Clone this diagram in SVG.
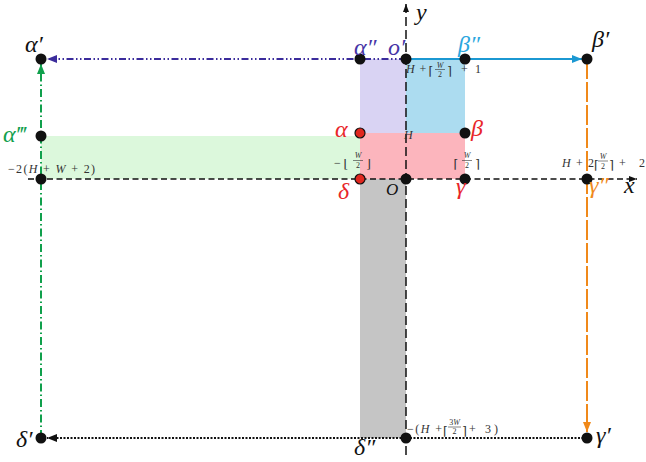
<svg xmlns="http://www.w3.org/2000/svg" width="646" height="462" viewBox="0 0 646 462">
<style>
.m{font-family:"Liberation Serif","DejaVu Serif",serif;font-style:italic}
.u{font-family:"Liberation Serif","DejaVu Serif",serif;font-style:normal}
.br{font-family:"DejaVu Serif","Liberation Serif",serif;font-style:normal}
.big{font-size:24px}
.sm{font-size:12px;fill:#333}
.fr{font-size:8px;fill:#333;text-anchor:middle}
.bar{stroke:#333;stroke-width:0.6}
.dot{fill:#111}
.rdot{fill:#e0271f;stroke:#111;stroke-width:1.2}
.red{fill:#e8262a}
.ind{fill:#4634a6}
.lb{fill:#2aa6de}
.grn{fill:#12a04e}
.org{fill:#f08a1c}
.blk{fill:#111}
</style>
<defs>
<marker id="aInd" viewBox="0 0 10 8" refX="10" refY="4" markerWidth="10" markerHeight="8" markerUnits="userSpaceOnUse" orient="auto"><path d="M0,0L10,4L0,8z" fill="#3b2c9c"/></marker>
<marker id="aBlue" viewBox="0 0 10 8" refX="10" refY="4" markerWidth="10" markerHeight="8" markerUnits="userSpaceOnUse" orient="auto"><path d="M0,0L10,4L0,8z" fill="#1b98d2"/></marker>
<marker id="aOrg" viewBox="0 0 10 8" refX="10" refY="4" markerWidth="10" markerHeight="8" markerUnits="userSpaceOnUse" orient="auto"><path d="M0,0L10,4L0,8z" fill="#f0891a"/></marker>
<marker id="aGrn" viewBox="0 0 10 8" refX="10" refY="4" markerWidth="10" markerHeight="8" markerUnits="userSpaceOnUse" orient="auto"><path d="M0,0L10,4L0,8z" fill="#10a04c"/></marker>
<marker id="aBlk" viewBox="0 0 10 8" refX="10" refY="4" markerWidth="10" markerHeight="8" markerUnits="userSpaceOnUse" orient="auto"><path d="M0,0L10,4L0,8z" fill="#111"/></marker>
<marker id="aAx" viewBox="0 0 8 6" refX="8" refY="3" markerWidth="8" markerHeight="6" markerUnits="userSpaceOnUse" orient="auto"><path d="M0,0L8,3L0,6z" fill="#111"/></marker>
</defs>
<rect width="646" height="462" fill="#fff"/>
<g id="regions">
<rect x="41" y="136" width="319" height="43" fill="#dcf8dc"/>
<rect x="360" y="59" width="46" height="74" fill="#d9d3f3"/>
<rect x="406" y="59" width="59" height="74" fill="#acdcf0"/>
<rect x="360" y="133" width="105" height="46" fill="#fcb5bd"/>
<rect x="360" y="179" width="46" height="259" fill="#c5c5c5"/>
</g>
<g id="connectors" fill="none">
<line id="axis-x" x1="28" y1="179" x2="637" y2="179" stroke="#111" stroke-width="1.5" stroke-dasharray="6 3.5" marker-end="url(#aAx)"/>
<line id="axis-y" x1="406" y1="455" x2="406" y2="4" stroke="#111" stroke-width="1.5" stroke-dasharray="9 4" marker-end="url(#aAx)"/>
<line id="c-o-alpha1" x1="406" y1="59" x2="47" y2="59" stroke="#3b2c9c" stroke-width="2" stroke-dasharray="7 2.5 1.5 2.5 1.5 2.5" marker-end="url(#aInd)"/>
<line id="c-o-beta1" x1="406" y1="59" x2="582" y2="59" stroke="#1b98d2" stroke-width="2" marker-end="url(#aBlue)"/>
<line id="c-beta1-gamma1" x1="587" y1="59" x2="587" y2="432" stroke="#f0891a" stroke-width="2" stroke-dasharray="20 3" marker-end="url(#aOrg)"/>
<line id="c-gamma1-delta1" x1="587" y1="438" x2="47" y2="438" stroke="#111" stroke-width="2" stroke-dasharray="2 1.5" marker-end="url(#aBlk)"/>
<line id="c-delta1-alpha1" x1="41" y1="438" x2="41" y2="64" stroke="#10a04c" stroke-width="2" stroke-dasharray="8 3 1.5 3" marker-end="url(#aGrn)"/>
</g>
<g id="n-alpha1"><circle class="dot" cx="41" cy="59" r="5.5"/><text class="m big blk" x="25" y="52">α′</text></g>
<g id="n-alpha2"><circle class="dot" cx="360" cy="59" r="5.5"/><text class="m big ind" x="354" y="55">α″</text></g>
<g id="n-o1"><circle class="dot" cx="406" cy="59" r="5.5"/><text class="m big ind" x="388" y="55">o′</text>
<text class="m sm" x="406" y="73">H</text><text class="u sm" x="419.5" y="73">+</text>
<text class="br sm" x="428.5" y="75" font-size="13">⌈</text>
<text class="m fr" x="440" y="67.5">W</text><line class="bar" x1="435" y1="69.5" x2="445" y2="69.5"/><text class="u fr" x="440" y="76.5">2</text>
<text class="br sm" x="447" y="75" font-size="13">⌉</text>
<text class="u sm" x="461" y="73">+</text><text class="u sm" x="475" y="73">1</text></g>
<g id="n-beta2"><circle class="dot" cx="465" cy="59" r="5.5"/><text class="m big lb" x="458" y="52">β″</text></g>
<g id="n-beta1"><circle class="dot" cx="587" cy="59" r="5.5"/><text class="m big blk" x="592" y="47">β′</text></g>
<g id="n-alpha3"><circle class="dot" cx="41" cy="136" r="5.5"/><text class="m big grn" x="3" y="142">α‴</text></g>
<g id="n-alpha"><circle class="rdot" cx="360" cy="133" r="5"/><text class="m big red" x="335" y="137">α</text>
<text class="u sm" x="334" y="167">−</text>
<text class="br sm" x="343.5" y="168" font-size="13">⌊</text>
<text class="m fr" x="358" y="158">W</text><line class="bar" x1="353" y1="160.5" x2="363" y2="160.5"/><text class="u fr" x="358" y="168">2</text>
<text class="br sm" x="366" y="168" font-size="13">⌋</text></g>
<g id="n-H"><text class="m sm" x="404" y="139" fill="#222">H</text></g>
<g id="n-beta"><circle class="dot" cx="465" cy="133" r="5.5"/><text class="m big red" x="471" y="136">β</text>
<text class="br sm" x="453.5" y="168" font-size="13">⌈</text>
<text class="m fr" x="467" y="158">W</text><line class="bar" x1="462" y1="160.5" x2="472" y2="160.5"/><text class="u fr" x="467" y="168">2</text>
<text class="br sm" x="475" y="168" font-size="13">⌉</text></g>
<g id="n-left"><circle class="dot" cx="41" cy="179" r="5.5"/>
<text class="sm u" x="8" y="173" textLength="87" lengthAdjust="spacing">−2(<tspan class="m">H</tspan> + <tspan class="m">W</tspan> + 2)</text></g>
<g id="n-delta"><circle class="rdot" cx="360" cy="179" r="5"/><text class="m big red" x="338" y="199">δ</text></g>
<g id="n-O"><circle class="dot" cx="406" cy="179" r="5.5"/><text class="m blk" font-size="17" x="386" y="195">O</text></g>
<g id="n-gamma"><circle class="dot" cx="465" cy="179" r="5.5"/><text class="m big red" x="456" y="194">γ</text></g>
<g id="n-gamma2"><circle class="dot" cx="587" cy="179" r="5.5"/><text class="m big org" x="589" y="193">γ″</text>
<text class="m sm" x="562" y="167">H</text><text class="u sm" x="576" y="167">+</text><text class="u sm" x="588" y="167">2</text>
<text class="br sm" x="594" y="169" font-size="13">⌈</text>
<text class="m fr" x="603" y="158.5">W</text><line class="bar" x1="598" y1="161" x2="608" y2="161"/><text class="u fr" x="603" y="168.5">2</text>
<text class="br sm" x="609" y="169" font-size="13">⌉</text>
<text class="u sm" x="619" y="167">+</text><text class="u sm" x="639" y="167">2</text></g>
<g id="n-x"><text class="m big blk" x="624" y="193">x</text></g>
<g id="n-y"><text class="m big blk" x="416" y="20">y</text></g>
<g id="n-delta1"><circle class="dot" cx="41" cy="438" r="5.5"/><text class="m big blk" x="16" y="447">δ′</text></g>
<g id="n-delta2"><text class="m big blk" x="354" y="455">δ″</text></g>
<g id="n-bottom"><circle class="dot" cx="406" cy="438" r="5.5"/>
<text class="u sm" x="407" y="433" textLength="35" lengthAdjust="spacing">−(<tspan class="m">H</tspan> +</text>
<text class="br sm" x="443" y="435" font-size="13">⌈</text>
<text class="fr u" x="454.5" y="425" font-size="7.5">3<tspan class="m">W</tspan></text><line class="bar" x1="448" y1="427" x2="461" y2="427"/><text class="u fr" x="454.5" y="434" font-size="7.5">2</text>
<text class="br sm" x="462" y="435" font-size="13">⌉</text>
<text class="u sm" x="469" y="433" textLength="29" lengthAdjust="spacing">+ 3)</text></g>
<g id="n-gamma1"><circle class="dot" cx="587" cy="438" r="5.5"/><text class="m big blk" x="596" y="443">γ′</text></g>
</svg>
